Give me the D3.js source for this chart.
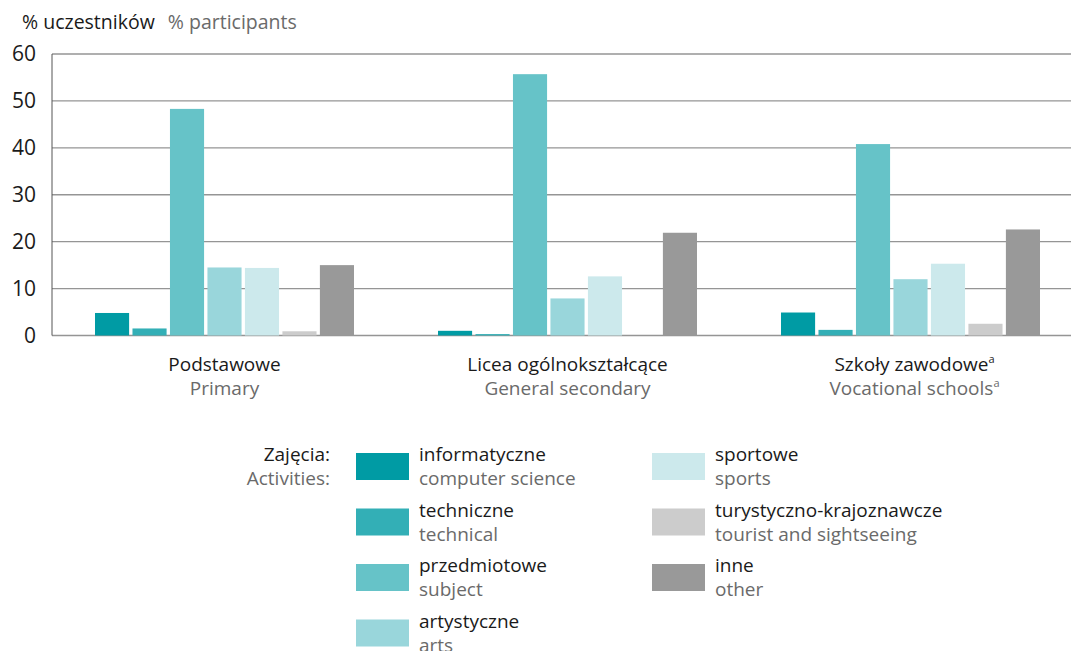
<!DOCTYPE html>
<html><head><meta charset="utf-8">
<script src="https://cdn.jsdelivr.net/npm/d3@7"></script>
<style>body{margin:0;background:#fff}svg{display:block;font-family:"Open Sans",sans-serif}</style>
</head><body><svg id="c" width="1071" height="651"></svg>
<script>
const groupsPL = ["Podstawowe", "Licea ogólnokształcące", "Szkoły zawodowe"];
const groupsEN = ["Primary", "General secondary", "Vocational schools"];
const groupNote = ["", "", "a"];
const seriesPL = ["informatyczne", "techniczne", "przedmiotowe", "artystyczne", "sportowe", "turystyczno-krajoznawcze", "inne"];
const seriesEN = ["computer science", "technical", "subject", "arts", "sports", "tourist and sightseeing", "other"];
const colors = ["#009ba4", "#33afb6", "#66c3c8", "#99d6db", "#cce9ec", "#cccccc", "#999999"];
// values per series: [Primary, General secondary, Vocational]
const informatyczne = [4.8, 1.0, 4.9];
const techniczne = [1.5, 0.3, 1.2];
const przedmiotowe = [48.3, 55.7, 40.8];
const artystyczne = [14.5, 7.9, 12.0];
const sportowe = [14.4, 12.6, 15.3];
const turystyczne = [0.9, 0, 2.5];
const inne = [15.0, 21.9, 22.6];
const yTicks = [0, 10, 20, 30, 40, 50, 60];

const values = [informatyczne, techniczne, przedmiotowe, artystyczne, sportowe, turystyczne, inne];
const svg = d3.select("#c");
const FS = 19;

const x0 = d3.scaleBand().domain(groupsPL).range([53, 1082]);
const x1 = d3.scaleBand().domain(seriesPL).range([42, x0.bandwidth() - 42]).paddingInner(0.09);
const y = d3.scaleLinear().domain([0, 60]).range([335.5, 54]);

// gridlines
svg.append("g").selectAll("line").data(yTicks).join("line")
  .attr("x1", 52).attr("x2", 1071)
  .attr("y1", d => y(d)).attr("y2", d => y(d))
  .attr("stroke", "#959595").attr("stroke-width", 1.4);

// y axis
const yAxis = d3.axisLeft(y).tickValues(yTicks).tickSize(0).tickPadding(16);
const ga = svg.append("g").attr("transform", "translate(52,0)").call(yAxis);
ga.select(".domain").attr("stroke", "#555").attr("stroke-width", 1).attr("d", `M0,${y(60)}V${y(0)}`);
ga.selectAll("text").attr("font-family", "Open Sans").attr("font-size", 21).attr("fill", "#1a1a1a");

// bars
const rows = [];
groupsPL.forEach((g, gi) => seriesPL.forEach((s, si) => rows.push({g, s, si, v: values[si][gi]})));
svg.append("g").selectAll("rect").data(rows.filter(d => d.v > 0)).join("rect")
  .attr("x", d => x0(d.g) + x1(d.s))
  .attr("width", x1.bandwidth())
  .attr("y", d => y(d.v))
  .attr("height", d => y(0) - y(d.v))
  .attr("fill", d => colors[d.si]);

// title
const t = svg.append("text").attr("x", 22).attr("y", 29).attr("font-size", 19.5);
t.append("tspan").attr("fill", "#1a1a1a").text("% uczestników");
t.append("tspan").attr("fill", "#6a6a6a").attr("dx", 13).text("% participants");

// category labels
groupsPL.forEach((g, i) => {
  const cx = x0(g) + x0.bandwidth() / 2 + (groupNote[i] ? 4 : 0);
  const t1 = svg.append("text").attr("x", cx).attr("y", 371).attr("text-anchor", "middle").attr("font-size", FS).attr("fill", "#1a1a1a");
  t1.append("tspan").text(g);
  if (groupNote[i]) t1.append("tspan").attr("font-size", 11).attr("dy", -8).text(groupNote[i]);
  const t2 = svg.append("text").attr("x", cx).attr("y", 395).attr("text-anchor", "middle").attr("font-size", FS).attr("fill", "#6a6a6a");
  t2.append("tspan").text(groupsEN[i]);
  if (groupNote[i]) t2.append("tspan").attr("font-size", 11).attr("dy", -8).text(groupNote[i]);
});

// legend
svg.append("text").attr("x", 330).attr("y", 461).attr("text-anchor", "end").attr("font-size", FS).attr("fill", "#1a1a1a").text("Zajęcia:");
svg.append("text").attr("x", 330).attr("y", 485).attr("text-anchor", "end").attr("font-size", FS).attr("fill", "#6a6a6a").text("Activities:");
const legPos = seriesPL.map((s, i) => i < 4 ? {x: 356, r: i} : {x: 652, r: i - 4});
const lg = svg.append("g").selectAll("g").data(seriesPL).join("g")
  .attr("transform", (d, i) => `translate(${legPos[i].x},${453 + legPos[i].r * 55.5})`);
lg.append("rect").attr("width", 53).attr("height", 27).attr("fill", (d, i) => colors[i]);
lg.append("text").attr("x", 63).attr("y", 8).attr("font-size", FS).attr("fill", "#1a1a1a").text(d => d);
lg.append("text").attr("x", 63).attr("y", 32).attr("font-size", FS).attr("fill", "#6a6a6a").text((d, i) => seriesEN[i]);
</script></body></html>
